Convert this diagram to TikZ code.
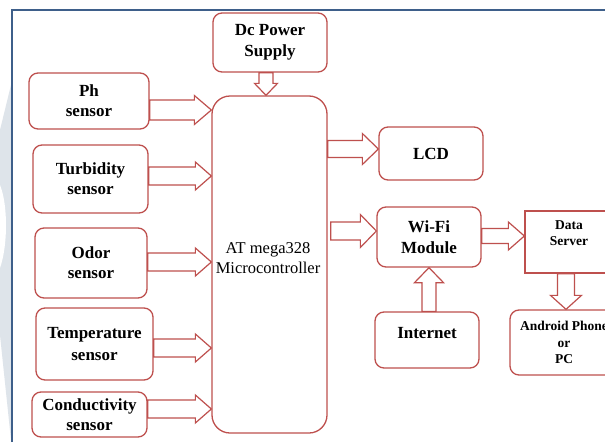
\documentclass[tikz,border=0pt]{standalone}
\usepackage{fontspec}
\setmainfont{Liberation Serif}
\usetikzlibrary{calc}

\definecolor{boxred}{RGB}{190,80,78}
\definecolor{framebl}{RGB}{62,95,138}
\definecolor{wmgrey}{RGB}{222,228,234}

\newcommand\lblfont{\fontsize{17}{20}\selectfont\bfseries}
\newcommand\smallfont{\fontsize{13.5}{16.5}\selectfont\bfseries}
\newcommand\mcufont{\fontsize{16.5}{19.5}\selectfont}

\tikzset{
  box/.style={draw=boxred, line width=1.3pt, rounded corners=9pt, fill=white,
              align=center, inner sep=0pt, font=\lblfont},
  txt/.style={align=center, inner sep=0pt},
  barrow/.style={draw=boxred, line width=1.2pt, fill=white, line join=miter},
  frameline/.style={draw=framebl, line width=2pt},
}

% block arrow from #1 to #2: shaft half width #3, head half width #4, head length #5
\newcommand\blockarrow[5]{%
  \coordinate (#1-#2-h) at ($(#2)!#5!(#1)$);
  \draw[barrow] ($(#1)!#3!90:(#2)$) -- ($(#1-#2-h)!#3!90:(#2)$)
     -- ($(#1-#2-h)!#4!90:(#2)$) -- (#2) -- ($(#1-#2-h)!#4!-90:(#2)$)
     -- ($(#1-#2-h)!#3!-90:(#2)$) -- ($(#1)!#3!-90:(#2)$) -- cycle;}

\begin{document}
\begin{tikzpicture}[x=1pt, y=-1pt]
  \useasboundingbox (0,0) rectangle (605,442);
  \clip (0,0) rectangle (605,442);
  \fill[white] (0,0) rectangle (605,442);

  % faint watermark strip on the left margin
  \fill[wmgrey] (0,130) -- (11,85) -- (11,440) -- (0,335) -- cycle;
  \fill[white] (0,185) .. controls (8,205) and (8,245) .. (0,268) -- cycle;

  % page frame
  \draw[frameline] (12,442) -- (12,10) -- (605,10);

  % blocks
  \node[box, minimum width=114, minimum height=59] (dc) at (270,42.5) {Dc Power\\[1pt]Supply};
  \node[box, rounded corners=18pt, minimum width=115, minimum height=337] (mcu) at (269.5,264.5) {};
  \node[txt, font=\mcufont] (mcutxt) at (268,258) {AT mega328\\Microcontroller};

  \node[box, minimum width=120, minimum height=56] (ph)   at (89,101)    {Ph\\sensor};
  \node[box, minimum width=115, minimum height=68] (turb) at (90.5,179)  {Turbidity\\sensor};
  \node[box, minimum width=112, minimum height=70] (odor) at (91,263)    {Odor\\sensor};
  \node[box, minimum width=117, minimum height=72] (temp) at (94.5,344)  {Temperature\\[2pt]sensor};
  \node[box, minimum width=115, minimum height=45] (cond) at (89.5,414.5){Conductivity\\sensor};

  \node[box, minimum width=104, minimum height=53] (lcd)  at (431,153.5) {LCD};
  \node[box, minimum width=104, minimum height=60] (wifi) at (429,237)   {Wi-Fi\\[1pt]Module};
  \node[box, minimum width=104, minimum height=56] (inet) at (427,340)   {};
  \node[txt, font=\lblfont] (inettxt) at (427,333) {Internet};

  \node[box, rounded corners=0pt, minimum width=110, minimum height=62] (data) at (580,242) {};
  \node[txt, font=\smallfont] (datatxt) at (569,233) {Data\\Server};
  \node[box, minimum width=108, minimum height=65, font=\smallfont] (andr) at (564,342.5) {Android Phone\\or\\PC};

  % connector end points
  \coordinate (sph)   at ($(ph.east)+(0,9)$);     \coordinate (eph)   at (mcu.west |- sph);
  \coordinate (sturb) at ($(turb.east)+(0,-3)$);  \coordinate (eturb) at (mcu.west |- sturb);
  \coordinate (sodor) at ($(odor.east)+(0,-1)$);  \coordinate (eodor) at (mcu.west |- sodor);
  \coordinate (stemp) at ($(temp.east)+(0,4)$);   \coordinate (etemp) at (mcu.west |- stemp);
  \coordinate (scond) at ($(cond.east)+(0,-5.5)$);\coordinate (econd) at (mcu.west |- scond);
  \coordinate (elcd)  at ($(lcd.west)+(0,-4.5)$); \coordinate (slcd)  at (mcu.east |- elcd);
  \coordinate (ewifi) at ($(wifi.west)+(0,-6)$);  \coordinate (swifi) at ($(mcu.east |- ewifi)+(3,0)$);
  \coordinate (sdata) at ($(wifi.east)+(0,-1)$);  \coordinate (edata) at (data.west |- sdata);
  \coordinate (sandr) at ($(datatxt.south |- data.south)+(-3,0)$); \coordinate (eandr) at (sandr |- andr.north);
  \coordinate (sinet) at ($(inet.north)+(2,0)$);  \coordinate (einet) at (sinet |- wifi.south);
  \coordinate (sdc)   at ($(dc.south)+(-4,0)$);   \coordinate (edc)   at (sdc |- mcu.north);

  % block arrows
  \blockarrow{sph}{eph}{10pt}{14.5pt}{17pt}
  \blockarrow{sturb}{eturb}{9pt}{14pt}{16pt}
  \blockarrow{sodor}{eodor}{9pt}{14pt}{16pt}
  \blockarrow{stemp}{etemp}{9pt}{14pt}{16pt}
  \blockarrow{scond}{econd}{9pt}{14pt}{16pt}
  \blockarrow{slcd}{elcd}{8.5pt}{15.5pt}{16pt}
  \blockarrow{swifi}{ewifi}{9pt}{16.5pt}{16pt}
  \blockarrow{sdata}{edata}{7.5pt}{14pt}{16pt}
  \blockarrow{sandr}{eandr}{8.5pt}{15.5pt}{14pt}
  \blockarrow{sinet}{einet}{7pt}{14.5pt}{15pt}
  \blockarrow{sdc}{edc}{7pt}{11.5pt}{12pt}
\end{tikzpicture}
\end{document}
